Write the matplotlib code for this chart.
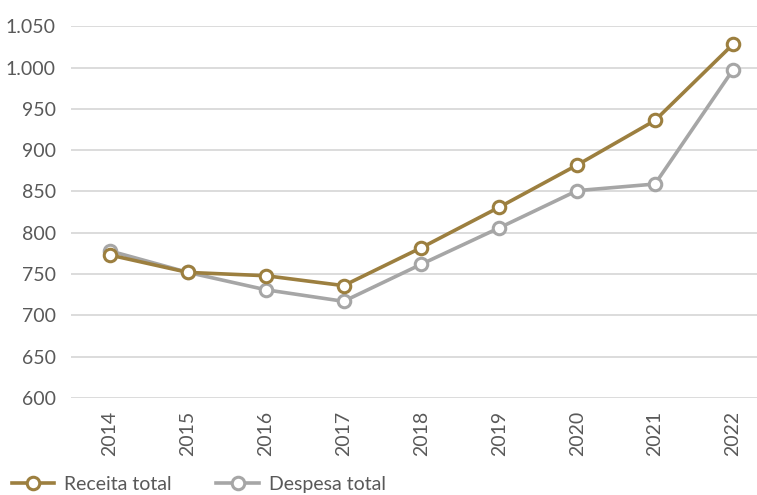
import matplotlib
matplotlib.use("Agg")
import matplotlib.pyplot as plt
from matplotlib.ticker import FuncFormatter

# data
anos = ["2014", "2015", "2016", "2017", "2018", "2019", "2020", "2021", "2022"]
receita_total = [773, 752, 748, 736, 782, 831, 882, 936, 1028]
despesa_total = [778, 752, 731, 717, 762, 806, 851, 859, 997]

OURO = "#9C7F3F"
CINZA = "#A6A6A6"
TEXTO = "#595959"

plt.rcParams["font.family"] = ["Lato", "DejaVu Sans"]

fig = plt.figure(figsize=(7.57, 4.95), dpi=100)
ax = fig.add_axes([0.094, 0.196, 0.906, 0.751])

x = list(range(len(anos)))
ax.plot(x, receita_total, color=OURO, lw=2.6, marker="o", ms=9,
        mfc="white", mec=OURO, mew=2.2, label="Receita total", zorder=3)
ax.plot(x, despesa_total, color=CINZA, lw=2.6, marker="o", ms=9,
        mfc="white", mec=CINZA, mew=2.2, label="Despesa total", zorder=2)

ax.set_ylim(600, 1050)
ax.set_yticks(range(600, 1051, 50))
ax.yaxis.set_major_formatter(FuncFormatter(lambda v, p: f"{int(v):,}".replace(",", ".")))
ax.set_xlim(-0.5, 8.31)
ax.set_xticks(x)
ax.set_xticklabels(anos, rotation=90)

ax.grid(axis="y", color="#D9D9D9", lw=1.3)
ax.set_axisbelow(True)
for s in ax.spines.values():
    s.set_visible(False)
ax.tick_params(length=0, colors=TEXTO, labelsize=14)
ax.tick_params(axis="y", pad=11)
ax.tick_params(axis="x", pad=9)

fig.legend(loc="lower left", bbox_to_anchor=(0.005, -0.012), ncol=2, frameon=False,
           fontsize=14, labelcolor=TEXTO, handlelength=2.2, handletextpad=0.5,
           columnspacing=2.3, borderaxespad=0.0)

fig.savefig("out.png", dpi=100)
